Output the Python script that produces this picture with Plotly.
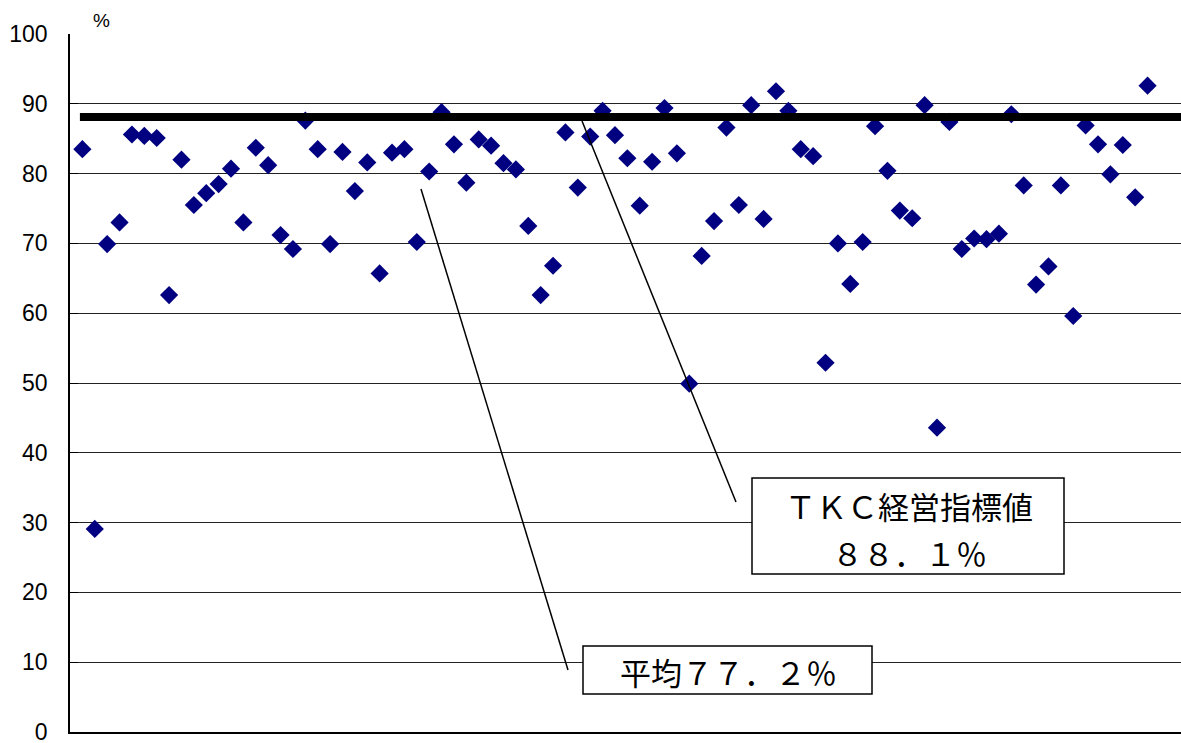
import plotly.graph_objects as go

# ---- data ----
companies = list(range(1, 88))
ratio = [83.5, 29.1, 69.9, 73.0, 85.6, 85.4, 85.1, 62.6, 82.0, 75.5,
         77.2, 78.5, 80.7, 73.0, 83.7, 81.2, 71.2, 69.2, 87.6, 83.5,
         69.9, 83.1, 77.5, 81.6, 65.7, 83.0, 83.5, 70.2, 80.3, 88.8,
         84.2, 78.7, 84.9, 84.0, 81.5, 80.6, 72.5, 62.6, 66.8, 85.9,
         78.0, 85.3, 89.0, 85.5, 82.2, 75.4, 81.7, 89.4, 82.9, 49.9,
         68.2, 73.2, 86.6, 75.5, 89.8, 73.5, 91.8, 89.0, 83.5, 82.5,
         52.9, 70.0, 64.2, 70.2, 86.8, 80.4, 74.7, 73.6, 89.8, 43.6,
         87.4, 69.2, 70.7, 70.6, 71.4, 88.5, 78.3, 64.1, 66.7, 78.3,
         59.6, 86.9, 84.2, 79.9, 84.1, 76.6, 92.6]
tkc_value = 88.1
avg_value = 77.2
y_ticks = [0, 10, 20, 30, 40, 50, 60, 70, 80, 90, 100]
tkc_label_1 = "ＴＫＣ経営指標値"
tkc_label_2 = "８８．１％"
avg_label = "平均７７．２％"

# ---- layout geometry ----
W, H = 1181, 743
L, R, T, B = 70, 0, 34, 11
PW, PH = W - L - R, H - T - B


def px(x):
    return (x - L) / PW


def py(y):
    return (H - B - y) / PH


fig = go.Figure()
fig.add_trace(go.Scatter(
    x=companies, y=ratio, mode="markers",
    marker=dict(symbol="diamond", size=14, color="#000080", line=dict(width=0)),
    showlegend=False, hoverinfo="y"))

shapes = []
# TKC benchmark line
shapes.append(dict(type="line", xref="x", yref="y", x0=0.8, x1=89.7,
                   y0=tkc_value, y1=tkc_value,
                   line=dict(color="black", width=8), layer="above"))
# leader lines
shapes.append(dict(type="line", xref="paper", yref="paper",
                   x0=px(421), y0=py(189), x1=px(568), y1=py(670),
                   line=dict(color="black", width=1.5)))
shapes.append(dict(type="line", xref="paper", yref="paper",
                   x0=px(582), y0=py(121), x1=px(736), y1=py(502),
                   line=dict(color="black", width=1.5)))
# boxes
shapes.append(dict(type="rect", xref="paper", yref="paper",
                   x0=px(752), y0=py(478), x1=px(1064), y1=py(574),
                   line=dict(color="black", width=1.5), fillcolor="white", layer="above"))
shapes.append(dict(type="rect", xref="paper", yref="paper",
                   x0=px(583), y0=py(646), x1=px(872), y1=py(694),
                   line=dict(color="black", width=1.5), fillcolor="white", layer="above"))

jp_font = dict(family="Noto Sans CJK JP", size=31, color="black")
annotations = [
    dict(text=tkc_label_1, xref="paper", yref="paper", x=px(909), y=py(505),
         showarrow=False, font=jp_font, xanchor="center", yanchor="middle"),
    dict(text=tkc_label_2, xref="paper", yref="paper", x=px(909), y=py(552),
         showarrow=False, font=jp_font, xanchor="center", yanchor="middle"),
    dict(text=avg_label, xref="paper", yref="paper", x=px(728), y=py(671),
         showarrow=False, font=jp_font, xanchor="center", yanchor="middle"),
    dict(text="%", xref="paper", yref="paper", x=px(101), y=py(20),
         showarrow=False, font=dict(family="Liberation Sans", size=19, color="black"),
         xanchor="center", yanchor="middle"),
]

fig.update_layout(
    width=W, height=H,
    margin=dict(l=L, r=R, t=T, b=B),
    paper_bgcolor="white", plot_bgcolor="white",
    shapes=shapes, annotations=annotations,
    font=dict(family="Liberation Sans", color="black"),
    xaxis=dict(range=[0, 89.7], showticklabels=False, showgrid=False,
               zeroline=False, showline=True, linecolor="black", linewidth=2,
               ticks=""),
    yaxis=dict(range=[0, 100], tickvals=y_ticks, showgrid=True,
               gridcolor="#222222", gridwidth=1, zeroline=False,
               showline=True, linecolor="black", linewidth=1.5,
               ticks="inside", ticklen=8, tickcolor="black",
               tickfont=dict(family="Liberation Sans", size=23, color="black"),
               ticklabelstandoff=16, ticklabeloverflow="allow", automargin=False),
)

fig.write_html("out.html", config={"displayModeBar": False},
               post_script="document.body.style.margin='0';document.body.style.overflow='hidden';")
